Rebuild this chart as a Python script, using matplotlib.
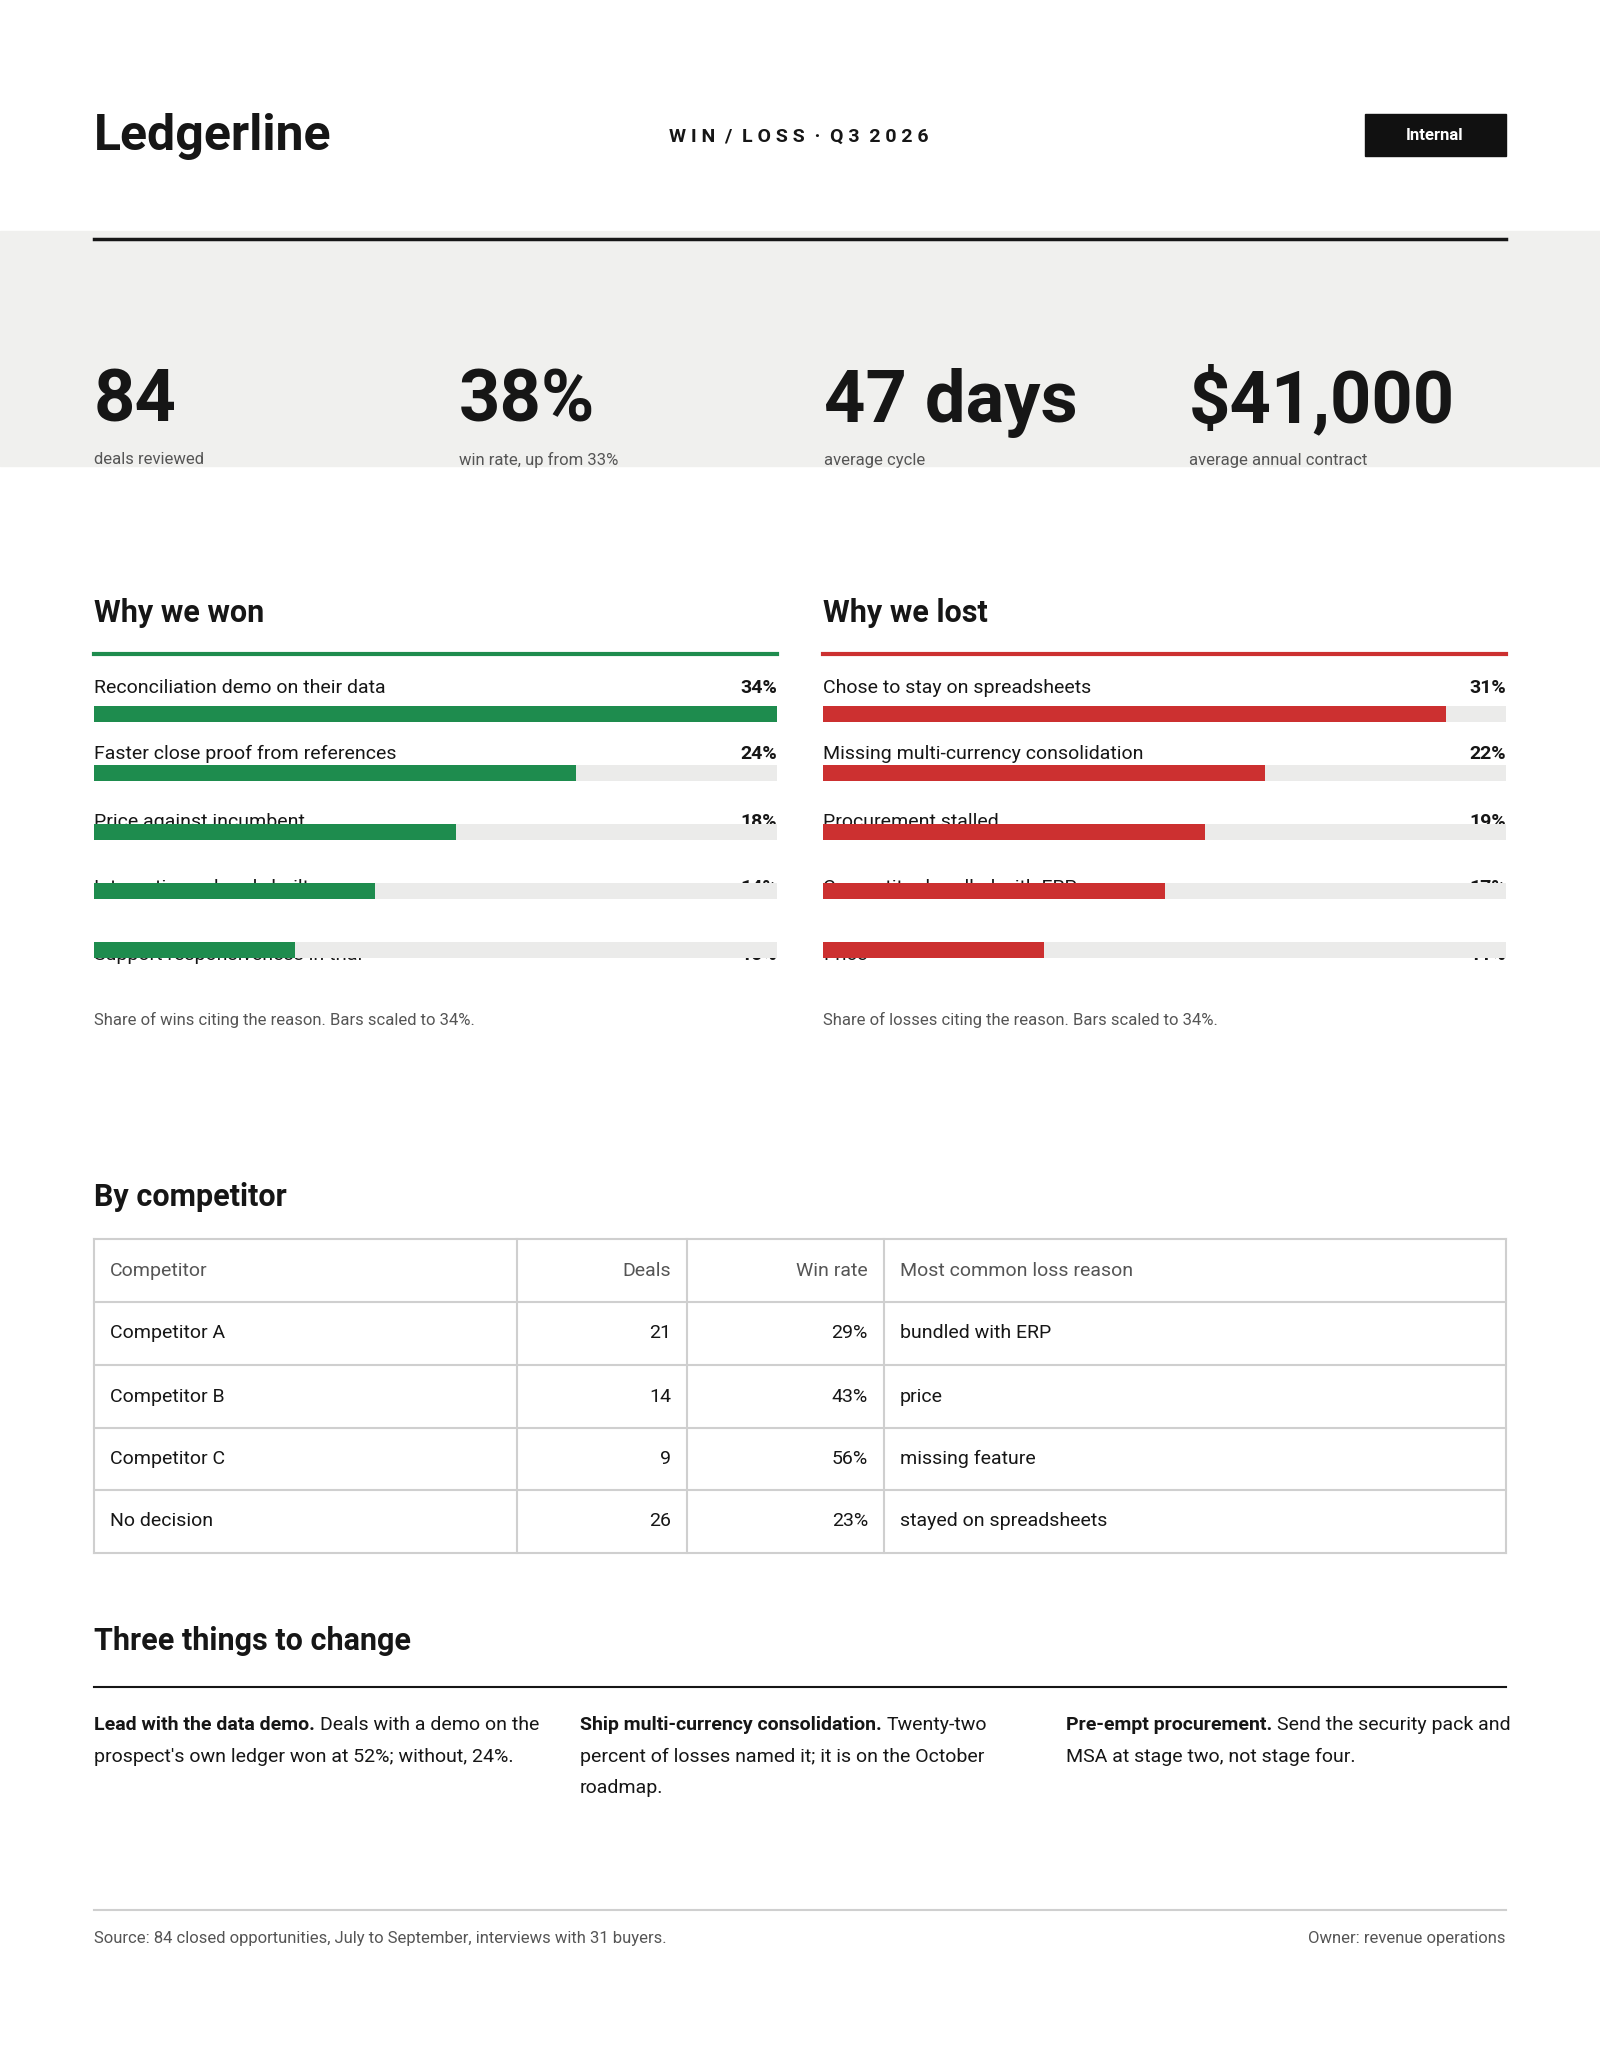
import matplotlib
matplotlib.use("Agg")
import matplotlib.pyplot as plt
from matplotlib.patches import Rectangle

plt.rcParams["font.family"] = ["Liberation Sans Narrow", "Roboto", "DejaVu Sans"]

KPI_VALUES = ["84", "38%", "47 days", "$41,000"]
KPI_LABELS = ["deals reviewed", "win rate, up from 33%", "average cycle", "average annual contract"]

WON_REASONS = ["Reconciliation demo on their data", "Faster close proof from references",
               "Price against incumbent", "Integrations already built", "Support responsiveness in trial"]
WON_SHARE = [34, 24, 18, 14, 10]
LOST_REASONS = ["Chose to stay on spreadsheets", "Missing multi-currency consolidation",
                "Procurement stalled", "Competitor bundled with ERP", "Price"]
LOST_SHARE = [31, 22, 19, 17, 11]
SCALE_MAX = 34

TABLE_HEADER = ["Competitor", "Deals", "Win rate", "Most common loss reason"]
COMPETITORS = ["Competitor A", "Competitor B", "Competitor C", "No decision"]
DEALS = [21, 14, 9, 26]
WIN_RATES = [29, 43, 56, 23]
LOSS_REASONS = ["bundled with ERP", "price", "missing feature", "stayed on spreadsheets"]

ACTIONS = [
    ("Lead with the data demo.", ["Deals with a demo on the", "prospect's own ledger won at 52%; without, 24%."]),
    ("Ship multi-currency consolidation.", ["Twenty-two", "percent of losses named it; it is on the October", "roadmap."]),
    ("Pre-empt procurement.", ["Send the security pack and", "MSA at stage two, not stage four."]),
]

W, H = 1600, 2071
GREEN, RED, TRACK = "#1e8c4e", "#cc3030", "#ebebea"
INK, MUTED = "#161616", "#555555"

fig = plt.figure(figsize=(W / 100, H / 100), dpi=100)
ax = fig.add_axes([0, 0, 1, 1])
ax.set_xlim(0, W)
ax.set_ylim(H, 0)
ax.axis("off")

# header
ax.text(94, 137, "Ledgerline", fontsize=36, fontweight="bold", color=INK, va="center")
ax.text(799, 137, "W I N  /  L O S S  ·  Q 3  2 0 2 6", fontsize=14, fontweight="bold",
        color=INK, ha="center", va="center")
ax.add_patch(Rectangle((1365, 114), 141, 42, color="#111111"))
ax.text(1435, 135, "Internal", fontsize=12, fontweight="bold", color="white", ha="center", va="center")

# KPI band
ax.add_patch(Rectangle((0, 231), W, 235, color="#f0f0ee", zorder=0))
ax.plot([94, 1506], [239, 239], color=INK, lw=2.5)
for i, (v, lab) in enumerate(zip(KPI_VALUES, KPI_LABELS)):
    x = 94 + i * 365
    ax.text(x, 422, v, fontsize=52, fontweight="bold", color=INK, va="baseline")
    ax.text(x, 460, lab, fontsize=12, color=MUTED, va="center")


def bar_panel(x0, x1, title, reasons, shares, color, note):
    ax.text(x0, 613, title, fontsize=22, fontweight="bold", color=INK, va="center")
    ax.plot([x0, x1], [654, 654], color=color, lw=3)
    row_y = [688, 754, 822, 888, 955]
    for y, r, s in zip(row_y, reasons, shares):
        ax.text(x0, y, r, fontsize=14, color=INK, va="center")
        ax.text(x1, y, f"{s}%", fontsize=14, fontweight="bold", color=INK, va="center", ha="right")
    ax.text(x0, 1020, note, fontsize=12, color=MUTED, va="center")
    # bar axes
    top, bottom = 700, 995
    bx = fig.add_axes([x0 / W, 1 - bottom / H, (x1 - x0) / W, (bottom - top) / H])
    bx.set_xlim(0, SCALE_MAX)
    n = len(shares)
    # map bar centres to pixel rows 715,781,847,914,980
    bx.set_ylim(n - 0.5 + 0.27, -0.5 + 0.27)
    idx = list(range(n))
    bx.barh(idx, [SCALE_MAX] * n, height=0.27, color=TRACK)
    bx.barh(idx, shares, height=0.27, color=color)
    bx.axis("off")


bar_panel(94, 777, "Why we won", WON_REASONS, WON_SHARE, GREEN,
          "Share of wins citing the reason. Bars scaled to 34%.")
bar_panel(823, 1506, "Why we lost", LOST_REASONS, LOST_SHARE, RED,
          "Share of losses citing the reason. Bars scaled to 34%.")

# table
ax.text(94, 1197, "By competitor", fontsize=22, fontweight="bold", color=INK, va="center")
row_edges = [1239, 1302, 1365, 1428, 1490, 1553]
col_edges = [94, 517, 687, 884, 1506]
lc = "#cfcfcf"
for y in row_edges:
    ax.plot([94, 1506], [y, y], color=lc, lw=1.5)
for x in col_edges:
    ax.plot([x, x], [1239, 1553], color=lc, lw=1.5)
rows = [TABLE_HEADER] + [[c, str(d), f"{w}%", r] for c, d, w, r in zip(COMPETITORS, DEALS, WIN_RATES, LOSS_REASONS)]
for i, row in enumerate(rows):
    yc = (row_edges[i] + row_edges[i + 1]) / 2
    col = MUTED if i == 0 else INK
    ax.text(col_edges[0] + 16, yc, row[0], fontsize=14, color=col, va="center")
    ax.text(col_edges[2] - 16, yc, row[1], fontsize=14, color=col, va="center", ha="right")
    ax.text(col_edges[3] - 16, yc, row[2], fontsize=14, color=col, va="center", ha="right")
    ax.text(col_edges[3] + 16, yc, row[3], fontsize=14, color=col, va="center")

# actions
ax.text(94, 1641, "Three things to change", fontsize=22, fontweight="bold", color=INK, va="center")
ax.plot([94, 1506], [1687, 1687], color=INK, lw=1.5)
renderer = fig.canvas.get_renderer()
for i, (lead, lines) in enumerate(ACTIONS):
    x = 94 + i * 486
    t = ax.text(x, 1725, lead, fontsize=14, fontweight="bold", color=INK, va="center")
    bb = t.get_window_extent(renderer)
    xe = ax.transData.inverted().transform((bb.x1, bb.y0))[0]
    ax.text(xe + 5, 1725, lines[0], fontsize=14, color=INK, va="center")
    for j, ln in enumerate(lines[1:]):
        ax.text(x, 1757 + j * 31, ln, fontsize=14, color=INK, va="center")

# footer
ax.plot([94, 1506], [1910, 1910], color="#cfcfcf", lw=1.5)
ax.text(94, 1938, "Source: 84 closed opportunities, July to September, interviews with 31 buyers.",
        fontsize=12, color=MUTED, va="center")
ax.text(1506, 1938, "Owner: revenue operations", fontsize=12, color=MUTED, va="center", ha="right")

fig.savefig("out.png", dpi=100, facecolor="white")
